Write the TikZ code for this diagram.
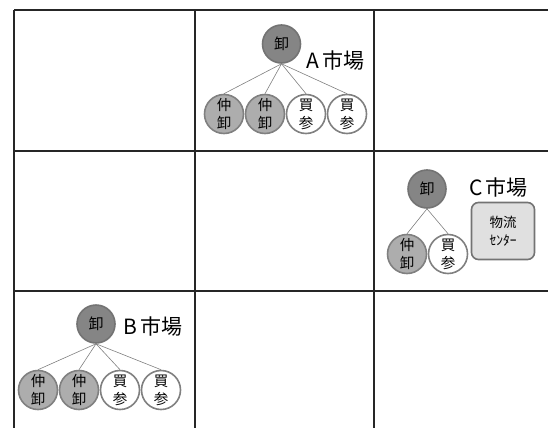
\documentclass[tikz,border=0pt]{standalone}
\usepackage{fontspec}
\setmainfont{Noto Sans CJK JP}
\usepackage{tikz}
\usetikzlibrary{positioning}

\begin{document}
\begin{tikzpicture}[
    x=1pt, y=-1pt,
    grid/.style={line width=1.3pt, black!85},
    oroshi/.style={circle, draw=black!55, line width=1.6pt, fill=black!48, minimum size=38pt, inner sep=0pt, font=\fontsize{15}{17}\selectfont},
    naka/.style={circle, draw=black!50, line width=1.6pt, fill=black!32, minimum size=39pt, inner sep=0pt, align=center, font=\fontsize{14.5}{18}\selectfont},
    baisan/.style={naka, fill=white},
    link/.style={black!50, line width=0.6pt},
    market/.style={font=\fontsize{21}{22}\selectfont, anchor=west},
    center/.style={draw=black!55, line width=1.6pt, fill=black!12, rounded corners=7pt, minimum width=63pt, minimum height=57pt, align=center, font=\fontsize{13.5}{18}\selectfont}
]
    \useasboundingbox (0,0) rectangle (548,428);

    % --- the 3x3 table ---
    \draw[grid] (14,10) -- (548,10);
    \draw[grid] (14,151) -- (548,151);
    \draw[grid] (14,291) -- (548,291);
    \draw[grid] (14,10) -- (14,428);
    \draw[grid] (195,10) -- (195,428);
    \draw[grid] (374,10) -- (374,428);

    % --- A market ---
    \node[oroshi] (a_oroshi) at (281.5,44) {卸};
    \node[market] at (303,61) {A\hspace{3pt}市場};
    \node[naka] (a_naka1) at (224,114) {仲\\卸};
    \node[naka] (a_naka2) at (265,114) {仲\\卸};
    \node[baisan] (a_bai1) at (306,114) {買\\参};
    \node[baisan] (a_bai2) at (347,114) {買\\参};
    \foreach \n in {a_naka1, a_naka2, a_bai1, a_bai2}
        \draw[link] (a_oroshi.south) -- (\n.north);

    % --- C market ---
    \node[oroshi] (c_oroshi) at (427,189) {卸};
    \node[market] at (466,188) {C\hspace{3pt}市場};
    \node[naka] (c_naka) at (407,254) {仲\\卸};
    \node[baisan] (c_bai) at (448,254) {買\\参};
    \node[center] (c_center) at (503,231) {物流\\ｾﾝﾀｰ};
    \foreach \n in {c_naka, c_bai}
        \draw[link] (c_oroshi.south) -- (\n.north);

    % --- B market ---
    \node[oroshi] (b_oroshi) at (96,324) {卸};
    \node[market] at (120,327) {B\hspace{3pt}市場};
    \node[naka] (b_naka1) at (38,390) {仲\\卸};
    \node[naka] (b_naka2) at (79,390) {仲\\卸};
    \node[baisan] (b_bai1) at (120,390) {買\\参};
    \node[baisan] (b_bai2) at (161,390) {買\\参};
    \foreach \n in {b_naka1, b_naka2, b_bai1, b_bai2}
        \draw[link] (b_oroshi.south) -- (\n.north);

\end{tikzpicture}
\end{document}
